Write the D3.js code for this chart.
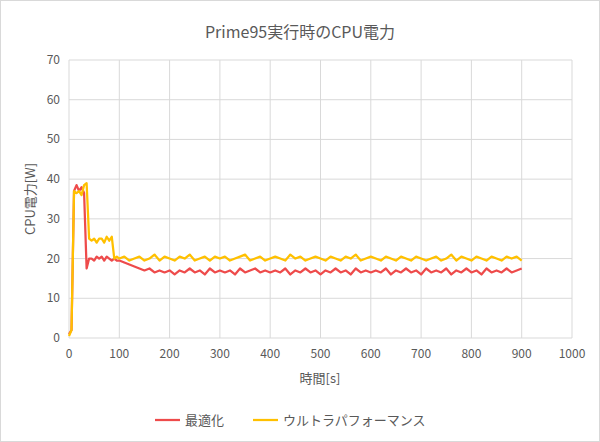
<!DOCTYPE html><html><head><meta charset="utf-8"><script src="https://cdn.jsdelivr.net/npm/d3@7"></script>
<style>body{margin:0;background:#fff}text{font-family:"Noto Sans CJK JP","Noto Sans",sans-serif;fill:#595959}</style></head><body><svg id="c" width="600" height="442"></svg><script>
const times=[0,5,10,15,20,25,30,35,40,45,50,55,60,65,70,75,80,85,90,95,100,110,120,130,140,150,160,170,180,190,200,210,220,230,240,250,260,270,280,290,300,310,320,330,340,350,360,370,380,390,400,410,420,430,440,450,460,470,480,490,500,510,520,530,540,550,560,570,580,590,600,610,620,630,640,650,660,670,680,690,700,710,720,730,740,750,760,770,780,790,800,810,820,830,840,850,860,870,880,890,900];
const optimized=[1,2,37,38.5,37,38,36.5,17.5,20,20,19.5,20.5,20,20.5,19.5,20.5,20,19.5,20,19.5,19.5,
19,18.5,18,17.5,17,17.5,16.5,17,16.5,17,
16,17,16.5,17.5,16.5,17,16,17.5,16.5,17,
16.5,17,16,17.5,16.5,17,17.5,16.5,17,16.5,
17,16.5,17.5,16,17,16.5,17.5,16.5,17,16,
17,16.5,17.5,16.5,17,16,17.5,16.5,17,16.5,
17,16.5,17.5,16,17,16.5,17.5,16.5,17,16,
17.5,16.5,17,16.5,17.5,16,17,16.5,17.5,16.5,
17,16,17.5,16.5,17,16.5,17.5,16.5,17,17.5];
const ultra=[0.5,2,37,36.5,37,36,38.5,39,25,24.5,25,24,25,25,24,25.5,24.5,25.5,20,20.5,20,
20.5,19.5,20,20.5,19.5,20,21,19.5,20.5,20,
19.5,20.5,20,21,19.5,20,20.5,19.5,20.5,20,
20.5,19.5,20,20.5,21,19.5,20,20.5,19.5,20,
20.5,20,19.5,21,20,20.5,19.5,20,20.5,20,
19.5,20.5,20,19.5,20.5,20,21,19.5,20,20.5,
20,19.5,20.5,20,19.5,20.5,20,19.5,20.5,20,
19.5,20,20.5,19.5,20,21,19.5,20.5,20,19.5,
20.5,20,19.5,20.5,20,19.5,20.5,20,20.5,19.5];
const xTicks=[0,100,200,300,400,500,600,700,800,900,1000];
const yTicks=[0,10,20,30,40,50,60,70];
const series=[{name:"最適化",vals:optimized,color:"#EE4B4B"},{name:"ウルトラパフォーマンス",vals:ultra,color:"#FFC000"}];
const svg=d3.select("#c");
svg.append("rect").attr("x",0.5).attr("y",0.5).attr("width",599).attr("height",441).attr("fill","#fff").attr("stroke","#d9d9d9");
const x=d3.scaleLinear().domain([0,1000]).range([69,572]);
const y=d3.scaleLinear().domain([0,70]).range([338,60]);
svg.append("g").selectAll("line").data(xTicks).join("line").attr("x1",d=>x(d)).attr("x2",d=>x(d)).attr("y1",y(0)).attr("y2",y(70)).attr("stroke","#d9d9d9");
svg.append("g").selectAll("line").data(yTicks).join("line").attr("x1",x(0)).attr("x2",x(1000)).attr("y1",d=>y(d)).attr("y2",d=>y(d)).attr("stroke","#d9d9d9");
svg.append("g").selectAll("text").data(xTicks).join("text").attr("x",d=>x(d)).attr("y",y(0)+20).attr("text-anchor","middle").attr("font-size",12).text(d=>d);
svg.append("g").selectAll("text").data(yTicks).join("text").attr("x",x(0)-9).attr("y",d=>y(d)+4).attr("text-anchor","end").attr("font-size",12).text(d=>d);
const line=d3.line().x((d,i)=>x(times[i])).y(d=>y(d));
series.forEach(s=>svg.append("path").attr("d",line(s.vals)).attr("fill","none").attr("stroke",s.color).attr("stroke-width",2.25).attr("stroke-linejoin","round"));
svg.append("text").attr("x",300).attr("y",38).attr("text-anchor","middle").attr("font-size",16).text("Prime95実行時のCPU電力");
svg.append("text").attr("x",320).attr("y",383).attr("text-anchor","middle").attr("font-size",13).text("時間[s]");
svg.append("text").attr("transform","translate(35,199) rotate(-90)").attr("text-anchor","middle").attr("font-size",13).text("CPU電力[W]");
const lg=[155,253];
series.forEach((s,i)=>{svg.append("line").attr("x1",lg[i]).attr("x2",lg[i]+25).attr("y1",420).attr("y2",420).attr("stroke",s.color).attr("stroke-width",2.25);
svg.append("text").attr("x",lg[i]+30).attr("y",425).attr("font-size",13).text(s.name);});
</script></body></html>
